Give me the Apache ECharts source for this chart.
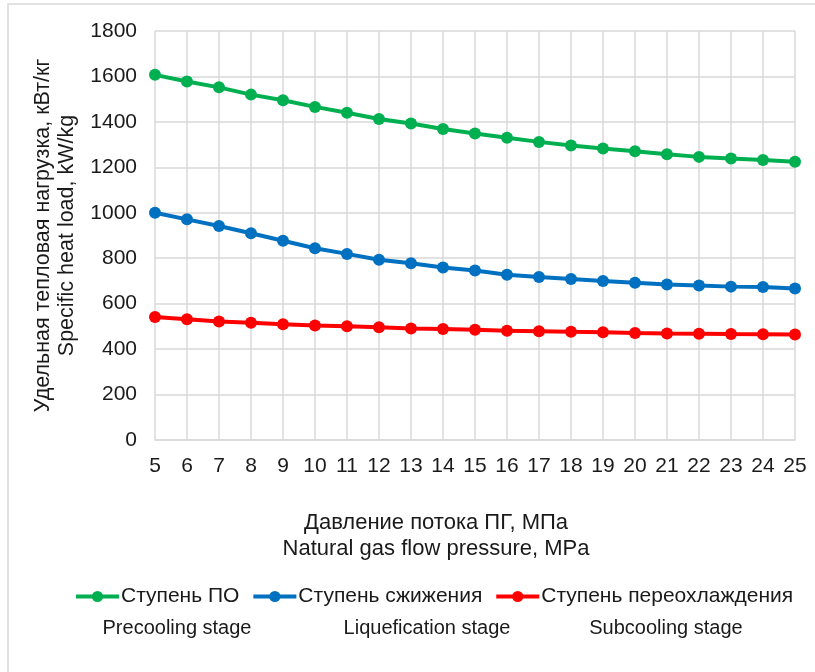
<!DOCTYPE html>
<html>
<head>
<meta charset="utf-8">
<script src="https://cdn.jsdelivr.net/npm/echarts@6/dist/echarts.min.js"></script>
<style>
  html, body { margin: 0; padding: 0; background: #fff; }
  #chart { width: 815px; height: 672px; }
</style>
</head>
<body>
<div id="chart"></div>
<script>
// pressure, MPa
const pressure = ['5', '6', '7', '8', '9', '10', '11', '12', '13', '14', '15',
  '16', '17', '18', '19', '20', '21', '22', '23', '24', '25']

// specific heat load, kW/kg
const precooling = [1607, 1578, 1552, 1520, 1495, 1466, 1440, 1413, 1393, 1369, 1349,
  1330, 1312, 1296, 1283, 1271, 1258, 1246, 1239, 1232, 1225]
const liquefaction = [1000, 971, 942, 910, 877, 844, 819, 793, 778, 759, 746,
  727, 717, 709, 700, 692, 684, 680, 675, 673, 667]
const subcooling = [541, 531, 522, 516, 509, 504, 501, 496, 491, 488, 485,
  481, 479, 476, 474, 471, 469, 468, 466, 465, 464]

const seriesNames = ['Ступень ПО', 'Ступень сжижения', 'Ступень переохлаждения']
const stageLabels = ['Precooling stage', 'Liquefication stage', 'Subcooling stage']
const colors = ['#00B050', '#0070C0', '#FF0000']

const yAxisName = 'Удельная тепловая нагрузка, кВт/кг\nSpecific heat load, kW/kg'
const xAxisName = 'Давление потока ПГ, МПа\nNatural gas flow pressure, MPa'

const font = '"Liberation Sans", Arial, sans-serif'
const gridColor = '#d9d9d9'
const textColor = '#1a1a1a'

const chart = echarts.init(document.getElementById('chart'))

const makeSeries = (name, data, color) => ({
  name,
  type: 'line',
  data,
  color,
  symbol: 'circle',
  symbolSize: 12,
  lineStyle: { width: 4, color },
  itemStyle: { color },
  emphasis: { disabled: true },
})

chart.setOption({
  animation: false,
  textStyle: { fontFamily: font },
  grid: { left: 155, right: 20, top: 31, bottom: 232 },
  legend: {
    left: 69,
    top: 581,
    itemWidth: 43,
    itemHeight: 14,
    itemGap: 12,
    data: seriesNames,
    lineStyle: { width: 4 },
    textStyle: { fontFamily: font, fontSize: 21, color: textColor, padding: [0, 0, 0, -3] },
  },
  xAxis: {
    type: 'category',
    data: pressure,
    boundaryGap: false,
    axisLine: { lineStyle: { color: gridColor, width: 1.5 } },
    axisTick: { show: false },
    axisLabel: { color: textColor, fontSize: 21, margin: 16, fontFamily: font },
    splitLine: { show: true, lineStyle: { color: gridColor, width: 1.5 } },
  },
  yAxis: {
    type: 'value',
    min: 0,
    max: 1800,
    interval: 200,
    name: yAxisName,
    nameLocation: 'middle',
    nameGap: 63,
    nameTextStyle: { color: textColor, fontSize: 21.5, lineHeight: 24, fontFamily: font },
    axisLine: { show: false },
    axisTick: { show: false },
    axisLabel: {
      color: textColor,
      fontSize: 21,
      margin: 18,
      fontFamily: font,
      formatter: (v) => String(v),
    },
    splitLine: { lineStyle: { color: gridColor, width: 1.5 } },
  },
  graphic: [
    {
      type: 'rect',
      shape: { x: 8, y: 4, width: 900, height: 800 },
      style: { fill: 'none', stroke: '#d9d9d9', lineWidth: 1.5 },
      silent: true,
      z: -10,
    },
    {
      type: 'text',
      x: 436,
      y: 510,
      style: {
        text: xAxisName,
        align: 'center',
        font: '22px ' + font,
        lineHeight: 26,
        fill: textColor,
      },
    },
    ...stageLabels.map((t, i) => ({
      type: 'text',
      x: [177, 427, 666][i],
      y: 618,
      style: { text: t, align: 'center', font: '20px ' + font, fill: textColor },
    })),
  ],
  series: [
    makeSeries(seriesNames[0], precooling, colors[0]),
    makeSeries(seriesNames[1], liquefaction, colors[1]),
    makeSeries(seriesNames[2], subcooling, colors[2]),
  ],
})
</script>
</body>
</html>
